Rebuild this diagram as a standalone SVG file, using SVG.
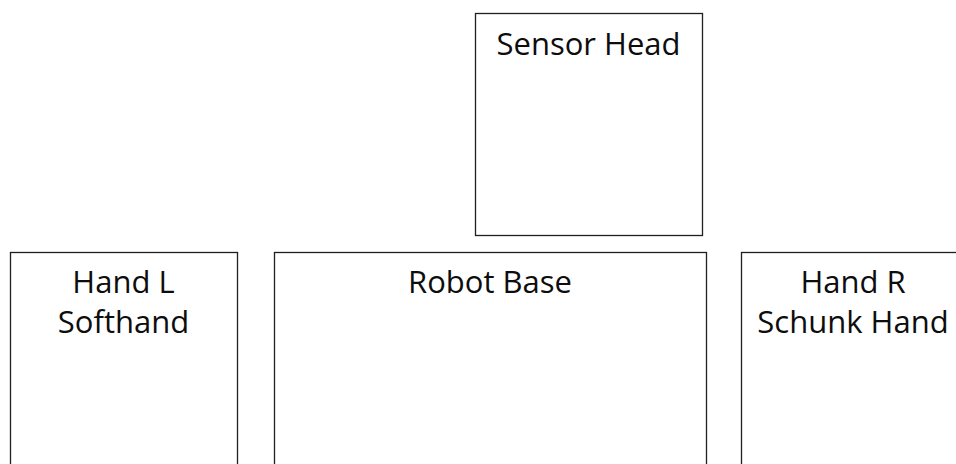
<svg xmlns="http://www.w3.org/2000/svg" width="956" height="464" viewBox="0 0 956 464">
  <style>
    .box { fill: #ffffff; stroke: #1f1f1f; stroke-width: 1.3; }
    .label { font-family: "Open Sans", "Liberation Sans", sans-serif; font-size: 31px; fill: #0d0d0d; text-anchor: middle; }
  </style>
  <rect x="0" y="0" width="956" height="464" fill="#ffffff"/>
  <g id="sensor-head">
    <rect class="box" x="475.5" y="13.5" width="227" height="222"/>
    <text class="label" x="588.5" y="55">Sensor Head</text>
  </g>
  <g id="hand-l">
    <rect class="box" x="10.5" y="252.5" width="227" height="230"/>
    <text class="label" x="123.5" y="293">Hand L</text>
    <text class="label" x="123.5" y="333">Softhand</text>
  </g>
  <g id="robot-base">
    <rect class="box" x="274.5" y="252.5" width="432" height="230"/>
    <text class="label" x="490" y="293">Robot Base</text>
  </g>
  <g id="hand-r">
    <rect class="box" x="741.5" y="252.5" width="227" height="230"/>
    <text class="label" x="853" y="293">Hand R</text>
    <text class="label" x="853" y="333">Schunk Hand</text>
  </g>
  <g id="connectors"></g>
</svg>
